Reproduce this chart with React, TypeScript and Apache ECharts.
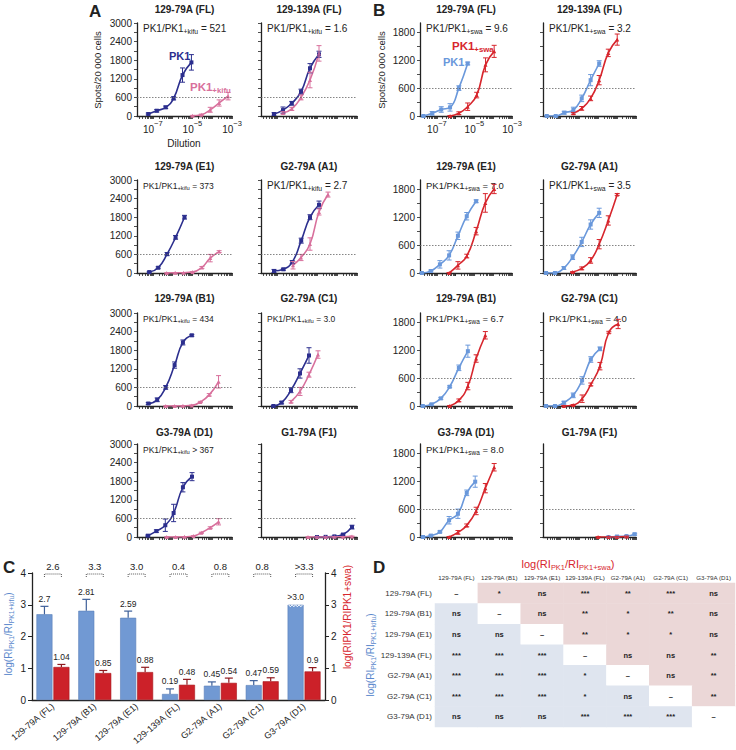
import React, { useEffect, useRef } from "react";
import * as echarts from "echarts";

const FONT = "'Liberation Sans', Arial, Helvetica, sans-serif";
const INK = "#222";

// ---------------- Panels A & B ----------------
const panelTitles = ["129-79A (FL)", "129-139A (FL)", "129-79A (E1)", "G2-79A (A1)", "129-79A (B1)", "G2-79A (C1)", "G3-79A (D1)", "G1-79A (F1)"];
const ratiosKifu = ["= 521", "= 1.6", "= 373", "= 2.7", "= 434", "= 3.0", "> 367", ""];
const ratiosSwa = ["= 9.6", "= 3.2", "= 7.0", "= 3.5", "= 6.7", "= 4.0", "= 8.0", ""];
const dilutionLabelExponents = [-7, -5, -3];
const spotsLabelsA = [0, 600, 1200, 1800, 2400, 3000];
const spotsLabelsB = [0, 600, 1200, 1800];
const threshold = 600;

// [log10 dilution, spots / 20 000 cells, error]
const A1_pk1 = [[-7.23, 65, 30], [-6.8, 170, 40], [-6.35, 280, 40], [-5.95, 570, 50], [-5.5, 1320, 230], [-5.05, 1730, 250]];
const A1_kifu = [[-5.0, 10, 10], [-4.55, 40, 20], [-4.1, 200, 80], [-3.65, 420, 100], [-3.2, 640, 120]];
const A2_pk1 = [[-7.15, 65, 40], [-6.7, 190, 100], [-6.26, 410, 60], [-5.8, 785, 80], [-5.35, 1540, 150], [-4.9, 1990, 100]];
const A2_kifu = [[-6.7, 100, 40], [-6.26, 230, 50], [-5.8, 600, 80], [-5.35, 1160, 250], [-4.9, 2020, 250]];
const A3_pk1 = [[-7.18, 30, 20], [-6.73, 170, 30], [-6.28, 610, 50], [-5.85, 1150, 60], [-5.4, 1800, 60]];
const A3_kifu = [[-6.3, 0, 5], [-5.87, 5, 5], [-5.45, 10, 5], [-5.0, 30, 10], [-4.52, 180, 30], [-4.1, 480, 120], [-3.65, 690, 30]];
const A4_pk1 = [[-7.15, 65, 50], [-6.68, 120, 30], [-6.24, 350, 50], [-5.79, 1043, 80], [-5.35, 1800, 80], [-4.9, 2200, 120]];
const A4_kifu = [[-6.2, 250, 120], [-5.8, 500, 100], [-5.35, 935, 200], [-4.9, 1970, 100], [-4.45, 2530, 80]];
const A5_pk1 = [[-7.23, 80, 30], [-6.78, 200, 60], [-6.35, 600, 60], [-5.9, 1320, 100], [-5.48, 2050, 80], [-5.03, 2280, 30]];
const A5_kifu = [[-6.35, 0, 5], [-5.9, 0, 5], [-5.48, 5, 5], [-5.03, 20, 10], [-4.6, 130, 20], [-4.15, 360, 40], [-3.68, 780, 200]];
const A6_pk1 = [[-7.18, 0, 20], [-6.77, 110, 40], [-6.3, 510, 80], [-5.85, 1050, 150], [-5.4, 1630, 250]];
const A6_kifu = [[-6.3, 140, 40], [-5.85, 470, 130], [-5.4, 1010, 80], [-4.95, 1660, 120]];
const A7_pk1 = [[-7.25, 43, 20], [-6.82, 190, 40], [-6.37, 380, 200], [-5.95, 775, 280], [-5.48, 1605, 150], [-5.02, 1947, 130]];
const A7_kifu = [[-6.3, 0, 5], [-5.85, 0, 5], [-5.4, 5, 5], [-4.95, 30, 10], [-4.55, 135, 20], [-4.1, 300, 30], [-3.68, 490, 100]];
const A8_pk1 = [[-5.0, 0, 5], [-4.57, 5, 5], [-4.13, 20, 10], [-3.7, 80, 20], [-3.25, 320, 60]];
const A8_kifu = [[-5.45, 0, 5], [-5.0, 0, 5], [-4.57, 0, 5], [-4.13, 5, 5], [-3.7, 10, 5], [-3.25, 20, 10]];

const B1_pk1 = [[-7.72, 0, 10], [-7.25, 57, 40], [-6.77, 140, 60], [-6.3, 185, 80], [-5.83, 600, 50], [-5.36, 1129, 30]];
const B1_swa = [[-6.3, 0, 10], [-5.83, 60, 30], [-5.36, 200, 80], [-4.88, 450, 60], [-4.41, 1100, 150], [-3.95, 1390, 130]];
const B2_pk1 = [[-7.7, 0, 10], [-7.23, 0, 10], [-6.78, 71, 30], [-6.3, 129, 60], [-5.86, 379, 70], [-5.39, 771, 120], [-4.94, 1129, 60]];
const B2_swa = [[-6.3, 57, 20], [-5.86, 164, 40], [-5.39, 379, 50], [-4.94, 771, 100], [-4.46, 1357, 80], [-3.99, 1643, 120]];
const B3_pk1 = [[-7.8, 0, 10], [-7.32, 43, 20], [-6.84, 186, 80], [-6.35, 379, 100], [-5.88, 800, 80], [-5.41, 1221, 80], [-4.91, 1543, 30]];
const B3_swa = [[-6.35, 0, 10], [-5.88, 164, 80], [-5.41, 364, 40], [-4.91, 900, 80], [-4.42, 1507, 200], [-3.95, 1807, 100]];
const B4_pk1 = [[-7.74, 0, 10], [-7.27, 0, 10], [-6.8, 107, 30], [-6.34, 340, 50], [-5.86, 668, 100], [-5.39, 1043, 100], [-4.94, 1293, 100]];
const B4_swa = [[-6.34, 20, 10], [-5.86, 100, 30], [-5.39, 270, 60], [-4.94, 620, 100], [-4.46, 1130, 100], [-3.99, 1690, 20]];
const B5_pk1 = [[-7.75, 0, 10], [-7.28, 36, 20], [-6.79, 164, 20], [-6.32, 414, 20], [-5.83, 821, 60], [-5.35, 1179, 130]];
const B5_swa = [[-6.32, 0, 10], [-5.83, 121, 30], [-5.35, 429, 80], [-4.91, 1021, 80], [-4.42, 1521, 80]];
const B6_pk1 = [[-7.74, 0, 10], [-7.27, 0, 10], [-6.8, 71, 30], [-6.31, 229, 50], [-5.84, 550, 80], [-5.38, 1000, 60], [-4.9, 1229, 40]];
const B6_swa = [[-6.8, 0, 10], [-6.31, 21, 10], [-5.84, 157, 80], [-5.38, 464, 30], [-4.9, 857, 80], [-4.43, 1586, 20], [-3.94, 1764, 100]];
const B7_pk1 = [[-7.74, 0, 10], [-7.32, 30, 15], [-6.84, 110, 20], [-6.35, 360, 80], [-5.88, 500, 100], [-5.41, 950, 60], [-4.96, 1190, 120]];
const B7_swa = [[-6.35, 0, 10], [-5.88, 100, 40], [-5.41, 250, 30], [-4.91, 560, 80], [-4.42, 1050, 100], [-3.95, 1500, 80]];
const B8_pk1 = [[-4.45, 0, 10], [-4.0, 10, 10], [-3.5, 20, 10], [-3.07, 60, 20]];
const B8_swa = [[-5.0, 0, 5], [-4.45, 0, 5], [-4.0, 0, 5], [-3.5, 10, 10]];

const kifuPK1 = [A1_pk1, A2_pk1, A3_pk1, A4_pk1, A5_pk1, A6_pk1, A7_pk1, A8_pk1];
const kifuTreated = [A1_kifu, A2_kifu, A3_kifu, A4_kifu, A5_kifu, A6_kifu, A7_kifu, A8_kifu];
const swaPK1 = [B1_pk1, B2_pk1, B3_pk1, B4_pk1, B5_pk1, B6_pk1, B7_pk1, B8_pk1];
const swaTreated = [B1_swa, B2_swa, B3_swa, B4_swa, B5_swa, B6_swa, B7_swa, B8_swa];

// ---------------- Panel C ----------------
const cCategories = ["129-79A (FL)", "129-79A (B1)", "129-79A (E1)", "129-139A (FL)", "G2-79A (A1)", "G2-79A (C1)", "G3-79A (D1)"];
const cKifu = [2.7, 2.81, 2.59, 0.19, 0.45, 0.47, 3.0];
const cKifuErr = [0.25, 0.36, 0.21, 0.16, 0.12, 0.14, 0];
const cKifuLabels = ["2.7", "2.81", "2.59", "0.19", "0.45", "0.47", ">3.0"];
const cSwa = [1.04, 0.85, 0.88, 0.48, 0.54, 0.59, 0.9];
const cSwaErr = [0.08, 0.08, 0.15, 0.17, 0.15, 0.11, 0.12];
const cSwaLabels = ["1.04", "0.85", "0.88", "0.48", "0.54", "0.59", "0.9"];
const cFold = ["2.6", "3.3", "3.0", "0.4", "0.8", "0.8", ">3.3"];
const cTicks = [0, 1, 2, 3, 4];

// ---------------- Panel D ----------------
const dLabels = ["129-79A (FL)", "129-79A (B1)", "129-79A (E1)", "129-139A (FL)", "G2-79A (A1)", "G2-79A (C1)", "G3-79A (D1)"];
const dSig = [
  ["–", "*", "ns", "***", "**", "***", "ns"],
  ["ns", "–", "ns", "**", "*", "**", "ns"],
  ["ns", "ns", "–", "**", "*", "*", "ns"],
  ["***", "***", "***", "–", "ns", "ns", "**"],
  ["***", "***", "***", "*", "–", "ns", "**"],
  ["***", "***", "***", "*", "ns", "–", "**"],
  ["ns", "ns", "ns", "***", "***", "***", "–"],
];

// ---------------- colours ----------------
const C_NAVY = "#2c2f8e";
const C_PINK = "#d8709c";
const C_LBLUE = "#6a98db";
const C_RED = "#d7262d";
const C_BAR_BLUE = "#7199d3";
const C_BAR_RED = "#cc2129";
const C_TITLE_BLUE = "#5b88cc";

function subRich(fs: number, color: string, weight: string = "normal") {
  return {
    m: { fontSize: fs, fontFamily: FONT, fill: color, color, fontWeight: weight, verticalAlign: "top" },
    s: { fontSize: fs * 0.68, fontFamily: FONT, fill: color, color, fontWeight: weight, verticalAlign: "bottom", lineHeight: fs * 1.2 - 0.5 },
  };
}

function gText(x: number, y: number, text: string, style: any, extra: any = {}) {
  return {
    type: "text",
    x,
    y,
    silent: true,
    ...extra,
    style: { text, fontFamily: FONT, fill: INK, align: "left", textAlign: "left", verticalAlign: "middle", textVerticalAlign: "middle", ...style },
  };
}

function logTicks(xmin: number, xmax: number) {
  const t: number[] = [];
  for (let d = -9; d <= -3; d++) {
    for (let k = 1; k <= 9; k++) {
      const v = d + Math.log10(k);
      if (v >= xmin - 1e-9 && v <= xmax + 1e-9) t.push(v);
    }
  }
  return t;
}

function stepTicks(max: number, step: number) {
  const t: number[] = [];
  for (let v = 0; v <= max + 1e-9; v += step) t.push(v);
  return t;
}

function errSeries(g: number, data: number[][], color: string) {
  return {
    type: "custom",
    xAxisIndex: g,
    yAxisIndex: g,
    silent: true,
    z: 4,
    data: data.map((d) => [d[0], d[1], d[2]]),
    renderItem: (_p: any, api: any) => {
      const x = api.value(0), y = api.value(1), e = api.value(2);
      const t = api.coord([x, y + e]);
      const b = api.coord([x, Math.max(0, y - e)]);
      const st = { stroke: color, lineWidth: 1 };
      return {
        type: "group",
        children: [
          { type: "line", shape: { x1: t[0], y1: t[1], x2: b[0], y2: b[1] }, style: st },
          { type: "line", shape: { x1: t[0] - 2.5, y1: t[1], x2: t[0] + 2.5, y2: t[1] }, style: st },
          { type: "line", shape: { x1: b[0] - 2.5, y1: b[1], x2: b[0] + 2.5, y2: b[1] }, style: st },
        ],
      };
    },
  };
}

function buildOption() {
  const grid: any[] = [];
  const xAxis: any[] = [];
  const yAxis: any[] = [];
  const series: any[] = [];
  const graphic: any[] = [];

  const rowTops = [23, 180, 313, 444];
  const rowH = 93;
  const titleY = [9, 166, 298, 432];
  const ratioFsA = [10, 10, 8.5, 10, 8.5, 8.5, 8.5, 0];
  const ratioFsB = [10, 10, 9.5, 10, 9.5, 9.5, 9.5, 0];

  const addPanel = (cfg: any) => {
    const g = grid.length;
    grid.push({ left: cfg.left, top: cfg.top, width: cfg.width, height: rowH });
    xAxis.push({
      type: "value",
      gridIndex: g,
      min: cfg.xmin,
      max: -3,
      axisLine: { show: true, onZero: false, lineStyle: { color: INK, width: 1.3 } },
      axisTick: { show: true, length: 3, customValues: logTicks(cfg.xmin, -3), lineStyle: { color: INK, width: 0.8 } },
      axisLabel: {
        show: cfg.showX,
        customValues: dilutionLabelExponents,
        margin: 3,
        formatter: (v: number) => `{b|10}{e|−${Math.round(-v)}}`,
        rich: {
          b: { fontSize: 10, fontFamily: FONT, color: INK, verticalAlign: "bottom" },
          e: { fontSize: 7.5, fontFamily: FONT, color: INK, verticalAlign: "top", lineHeight: 15 },
        },
      },
      splitLine: { show: false },
    });
    yAxis.push({
      type: "value",
      gridIndex: g,
      min: 0,
      max: cfg.ymax,
      axisLine: { show: true, lineStyle: { color: INK, width: 1.3 } },
      axisTick: { show: true, length: 3, customValues: stepTicks(cfg.ylabels[cfg.ylabels.length - 1], 300), lineStyle: { color: INK, width: 0.8 } },
      axisLabel: { show: cfg.showY, customValues: cfg.ylabels, formatter: (v: number) => String(v), fontSize: 10, fontFamily: FONT, color: INK, margin: 5 },
      splitLine: { show: false },
    });
    const lineBase = {
      type: "line",
      xAxisIndex: g,
      yAxisIndex: g,
      smooth: 0.5,
      symbolSize: 4,
      showSymbol: true,
      silent: true,
      z: 3,
    };
    series.push({
      ...lineBase,
      data: cfg.a.map((d: number[]) => [d[0], d[1]]),
      symbol: cfg.symA,
      lineStyle: { color: cfg.colA, width: 1.6 },
      itemStyle: { color: cfg.colA },
      markLine: {
        silent: true,
        symbol: ["none", "none"],
        label: { show: false },
        lineStyle: { color: "#666", type: [1.5, 1.5], width: 0.8 },
        data: [{ yAxis: threshold }],
      },
    });
    series.push({
      ...lineBase,
      data: cfg.b.map((d: number[]) => [d[0], d[1]]),
      symbol: cfg.symB,
      lineStyle: { color: cfg.colB, width: 1.6 },
      itemStyle: { color: cfg.colB },
    });
    series.push(errSeries(g, cfg.a, cfg.colA));
    series.push(errSeries(g, cfg.b, cfg.colB));

    graphic.push(gText(cfg.left + cfg.width / 2, cfg.titleY, cfg.title, { fontSize: 10, fontWeight: "bold", align: "center", textAlign: "center" }));
    if (cfg.ratio) {
      const fs = cfg.ratioFs;
      graphic.push(
        gText(cfg.left + 6, cfg.top + 6, `{m|PK1/PK1}{s|${cfg.sub}}{m| ${cfg.ratio}}`, { rich: subRich(fs, INK) })
      );
    }
  };

  for (let i = 0; i < 8; i++) {
    const row = i >> 1, col = i & 1;
    addPanel({
      left: [137, 261][col], width: [95, 96][col], top: rowTops[row], titleY: titleY[row],
      xmin: -7.8, ymax: 3000, ylabels: spotsLabelsA,
      a: kifuPK1[i], b: kifuTreated[i], colA: C_NAVY, colB: C_PINK, symA: "rect", symB: "triangle",
      showX: i === 0, showY: col === 0, title: panelTitles[i], ratio: ratiosKifu[i], sub: "+kifu", ratioFs: ratioFsA[i],
    });
  }
  for (let i = 0; i < 8; i++) {
    const row = i >> 1, col = i & 1;
    addPanel({
      left: [420, 543][col], width: [92, 93][col], top: rowTops[row], titleY: titleY[row],
      xmin: -7.9, ymax: 2000, ylabels: spotsLabelsB,
      a: swaPK1[i], b: swaTreated[i], colA: C_LBLUE, colB: C_RED, symA: "rect", symB: "triangle",
      showX: i === 0, showY: col === 0, title: panelTitles[i], ratio: ratiosSwa[i], sub: "+swa", ratioFs: ratioFsB[i],
    });
  }

  // Panel A/B decorations
  graphic.push(gText(89, 11, "A", { fontSize: 17, fontWeight: "bold" }));
  graphic.push(gText(373, 10, "B", { fontSize: 17, fontWeight: "bold" }));
  graphic.push(gText(97, 70, "Spots/20 000 cells", { fontSize: 9.5, align: "center", textAlign: "center" }, { rotation: Math.PI / 2 }));
  graphic.push(gText(381, 70, "Spots/20 000 cells", { fontSize: 9.5, align: "center", textAlign: "center" }, { rotation: Math.PI / 2 }));
  graphic.push(gText(184, 143, "Dilution", { fontSize: 10, align: "center", textAlign: "center" }));
  graphic.push(gText(169, 56, "PK1", { fontSize: 11, fontWeight: "bold", fill: C_NAVY }));
  graphic.push(gText(190, 88, "{m|PK1}{s|+kifu}", { rich: subRich(11.5, C_PINK, "bold") }));
  graphic.push(gText(452, 47, "{m|PK1}{s|+swa}", { rich: subRich(11.5, C_RED, "bold") }));
  graphic.push(gText(443, 62, "PK1", { fontSize: 11, fontWeight: "bold", fill: C_LBLUE }));

  // ---------------- Panel C ----------------
  const gc = grid.length;
  grid.push({ left: 32, top: 573, width: 293, height: 127 });
  const xc = xAxis.length;
  xAxis.push({
    type: "category",
    gridIndex: gc,
    data: cCategories,
    axisLine: { show: true, lineStyle: { color: INK, width: 1.3 } },
    axisTick: { show: false },
    axisLabel: { interval: 0, rotate: 40, fontSize: 9, fontFamily: FONT, color: INK, margin: 5 },
  });
  const ycl = yAxis.length;
  const cAxisBase = {
    type: "value",
    gridIndex: gc,
    min: 0,
    max: 4,
    axisLine: { show: true, lineStyle: { color: INK, width: 1.3 } },
    axisTick: { show: true, length: 4, customValues: cTicks, lineStyle: { color: INK } },
    axisLabel: { customValues: cTicks, fontSize: 10, fontFamily: FONT, color: INK, margin: 6 },
    splitLine: { show: false },
  };
  yAxis.push({ ...cAxisBase, position: "left" });
  const ycr = yAxis.length;
  yAxis.push({ ...cAxisBase, position: "right" });

  const barW = 16;
  const half = (barW * 1.06) / 2;
  series.push({
    type: "bar", xAxisIndex: xc, yAxisIndex: ycl, data: cKifu, barWidth: barW, barGap: "6%", silent: true,
    itemStyle: { color: C_BAR_BLUE, borderColor: "#5a7fb8", borderWidth: 0.6 },
  });
  series.push({
    type: "bar", xAxisIndex: xc, yAxisIndex: ycr, data: cSwa, barWidth: barW, barGap: "6%", silent: true,
    itemStyle: { color: C_BAR_RED, borderColor: "#a8181f", borderWidth: 0.6 },
  });
  const cErr = (vals: number[], errs: number[], labels: string[], yIdx: number, off: number, color: string) => ({
    type: "custom",
    xAxisIndex: xc,
    yAxisIndex: yIdx,
    silent: true,
    z: 5,
    data: vals.map((v, i) => [i, v, errs[i]]),
    renderItem: (p: any, api: any) => {
      const i = api.value(0), v = api.value(1), e = api.value(2);
      const b = api.coord([i, v]);
      const t = api.coord([i, v + e]);
      const x = b[0] + off;
      const st = { stroke: color, lineWidth: 1.2 };
      const children: any[] = [];
      if (e > 0) {
        children.push({ type: "line", shape: { x1: x, y1: b[1], x2: x, y2: t[1] }, style: st });
        children.push({ type: "line", shape: { x1: x - 4, y1: t[1], x2: x + 4, y2: t[1] }, style: st });
      } else {
        // broken-axis serration on a bar that exceeds the scale
        const pts: number[][] = [];
        for (let k = 0; k <= 8; k++) pts.push([x - 7 + k * 1.75, b[1] + (k % 2 === 0 ? 0 : 2)]);
        children.push({ type: "polyline", shape: { points: pts }, style: { stroke: "#fff", lineWidth: 1, fill: null } });
      }
      children.push({
        type: "text",
        x,
        y: t[1] - 3,
        style: { text: labels[p.dataIndex], fontSize: 8.5, fontFamily: FONT, fill: INK, align: "center", textAlign: "center", verticalAlign: "bottom", textVerticalAlign: "bottom" },
      });
      return { type: "group", children };
    },
  });
  series.push(cErr(cKifu, cKifuErr, cKifuLabels, ycl, -half, "#3d5f99"));
  series.push(cErr(cSwa, cSwaErr, cSwaLabels, ycr, half, "#8e1a1f"));
  series.push({
    type: "custom",
    xAxisIndex: xc,
    yAxisIndex: ycl,
    silent: true,
    z: 5,
    data: cFold.map((_s, i) => [i, 4]),
    renderItem: (p: any, api: any) => {
      const c = api.coord([api.value(0), api.value(1)]);
      const y = c[1] + 1;
      const x1 = c[0] - half, x2 = c[0] + half;
      return {
        type: "group",
        children: [
          { type: "polyline", shape: { points: [[x1, y + 3], [x1, y], [x2, y], [x2, y + 3]] }, style: { stroke: "#444", lineWidth: 0.9, lineDash: [1, 1], fill: null } },
          { type: "text", x: c[0], y: y - 3, style: { text: cFold[p.dataIndex], fontSize: 9.5, fontFamily: FONT, fill: INK, align: "center", textAlign: "center", verticalAlign: "bottom", textVerticalAlign: "bottom" } },
        ],
      };
    },
  });
  graphic.push(gText(3, 567, "C", { fontSize: 17, fontWeight: "bold" }));
  graphic.push(gText(9, 634, "{m|log(RI}{s|PK1}{m|/RI}{s|PK1+kifu}{m|)}", { rich: subRich(10, C_TITLE_BLUE), align: "center", textAlign: "center" }, { rotation: Math.PI / 2 }));
  graphic.push(gText(347, 617, "log(RIPK1/RIPK1+swa)", { fontSize: 10, fill: C_RED, align: "center", textAlign: "center" }, { rotation: Math.PI / 2 }));

  // ---------------- Panel D ----------------
  const gd = grid.length;
  grid.push({ left: 435, top: 583, width: 300, height: 144 });
  const xd = xAxis.length;
  xAxis.push({
    type: "category",
    gridIndex: gd,
    position: "top",
    data: dLabels,
    axisLine: { show: false },
    axisTick: { show: false },
    axisLabel: { interval: 0, fontSize: 6.2, fontFamily: FONT, color: "#333", margin: 3 },
    splitLine: { show: false },
  });
  const yd = yAxis.length;
  yAxis.push({
    type: "category",
    gridIndex: gd,
    inverse: true,
    data: dLabels,
    axisLine: { show: false },
    axisTick: { show: false },
    axisLabel: { interval: 0, fontSize: 8, fontFamily: FONT, color: "#333", margin: 3 },
    splitLine: { show: false },
  });
  const hmData: number[][] = [];
  for (let r = 0; r < dLabels.length; r++) {
    for (let c = 0; c < dLabels.length; c++) {
      hmData.push([c, r, c > r ? 1 : c < r ? 2 : 0]);
    }
  }
  const hmIndex = series.length;
  series.push({
    type: "heatmap",
    xAxisIndex: xd,
    yAxisIndex: yd,
    data: hmData,
    silent: true,
    itemStyle: { borderWidth: 0 },
    label: {
      show: true,
      formatter: (p: any) => dSig[p.value[1]][p.value[0]],
      fontSize: 7.5,
      fontWeight: "bold",
      fontFamily: FONT,
      color: "#222",
    },
  });
  graphic.push(gText(373, 567, "D", { fontSize: 17, fontWeight: "bold" }));
  graphic.push(gText(568, 565, "{m|log(RI}{s|PK1}{m|/RI}{s|PK1+swa}{m|)}", { rich: subRich(11, C_RED), align: "center", textAlign: "center" }));
  graphic.push(gText(371, 655, "{m|log(RI}{s|PK1}{m|/RI}{s|PK1+kifu}{m|)}", { rich: subRich(10, C_TITLE_BLUE), align: "center", textAlign: "center" }, { rotation: Math.PI / 2 }));

  return {
    animation: false,
    backgroundColor: "#fff",
    textStyle: { fontFamily: FONT },
    grid,
    xAxis,
    yAxis,
    series,
    graphic: { elements: graphic },
    visualMap: {
      type: "piecewise",
      show: false,
      seriesIndex: hmIndex,
      dimension: 2,
      pieces: [
        { value: 0, color: "#ffffff" },
        { value: 1, color: "#ebd7d7" },
        { value: 2, color: "#dfe5ef" },
      ],
    },
  };
}

export default function App() {
  const ref = useRef<HTMLDivElement>(null);
  useEffect(() => {
    const chart = echarts.init(ref.current as HTMLDivElement, null, { renderer: "svg" });
    chart.setOption(buildOption() as any);
    return () => chart.dispose();
  }, []);
  return <div ref={ref} style={{ position: "fixed", left: 0, top: 0, width: 736, height: 750, background: "#fff" }} />;
}
